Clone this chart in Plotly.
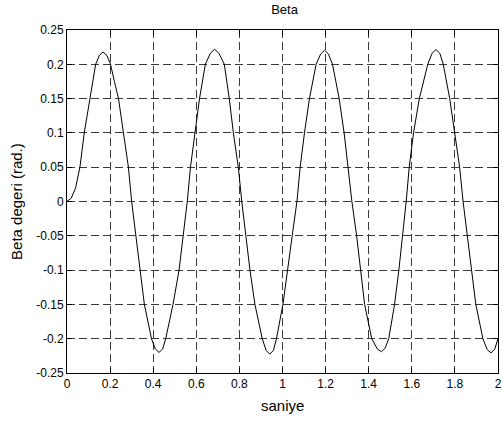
import plotly.graph_objects as go

# time (s) and beta (rad.)
t = [0, 0.02, 0.04, 0.06, 0.08, 0.106, 0.133, 0.15, 0.167, 0.185, 0.202, 0.22, 0.239, 0.262, 0.285,
     0.300, 0.320, 0.339, 0.359, 0.392, 0.41, 0.427, 0.444, 0.458, 0.492, 0.520, 0.539, 0.558, 0.573,
     0.593, 0.615, 0.642, 0.665, 0.685, 0.705, 0.730, 0.753, 0.772, 0.795, 0.811, 0.829, 0.849, 0.872,
     0.906, 0.924, 0.941, 0.958, 0.972, 1.002, 1.025, 1.045, 1.067, 1.082, 1.102, 1.125, 1.156, 1.177,
     1.195, 1.213, 1.232, 1.263, 1.286, 1.304, 1.322, 1.344, 1.362, 1.381, 1.414, 1.44, 1.459, 1.476,
     1.493, 1.520, 1.540, 1.558, 1.574, 1.588, 1.608, 1.635, 1.674, 1.694, 1.712, 1.730, 1.746, 1.776,
     1.799, 1.822, 1.838, 1.858, 1.877, 1.897, 1.930, 1.950, 1.968, 1.985, 2.0]
beta = [0, 0.005, 0.02, 0.05, 0.1, 0.15, 0.2, 0.213, 0.218, 0.213, 0.2, 0.175, 0.15, 0.1, 0.05,
        0, -0.05, -0.1, -0.15, -0.2, -0.215, -0.220, -0.215, -0.2, -0.15, -0.1, -0.05, 0, 0.05,
        0.1, 0.15, 0.2, 0.216, 0.222, 0.216, 0.2, 0.15, 0.1, 0.05, 0, -0.05, -0.1, -0.15,
        -0.2, -0.217, -0.2226, -0.217, -0.2, -0.15, -0.1, -0.05, 0, 0.05, 0.1, 0.15, 0.2, 0.215,
        0.2205, 0.215, 0.2, 0.15, 0.1, 0.05, 0, -0.05, -0.1, -0.15, -0.2, -0.215, -0.219, -0.214,
        -0.2, -0.15, -0.1, -0.05, 0, 0.05, 0.1, 0.15, 0.2, 0.216, 0.2215, 0.216, 0.2, 0.15,
        0.1, 0.05, 0, -0.05, -0.1, -0.15, -0.2, -0.216, -0.2207, -0.215, -0.2]

x_tickvals = [0, 0.2, 0.4, 0.6, 0.8, 1.0, 1.2, 1.4, 1.6, 1.8, 2.0]
x_ticktext = ["0", "0.2", "0.4", "0.6", "0.8", "1", "1.2", "1.4", "1.6", "1.8", "2"]
y_tickvals = [0.25, 0.2, 0.15, 0.1, 0.05, 0, -0.05, -0.1, -0.15, -0.2, -0.25]
y_ticktext = ["0.25", "0.2", "0.15", "0.1", "0.05", "0", "-0.05", "-0.1", "-0.15", "-0.2", "-0.25"]

FONT = "Liberation Sans, Arial, sans-serif"
W, H = 502, 421
L, R, T, B = 67, 0, 30, 48

fig = go.Figure()
fig.add_trace(go.Scatter(x=t, y=beta, mode="lines", line=dict(color="black", width=1), showlegend=False))

axis_common = dict(
    showline=True, linecolor="black", linewidth=1, mirror="ticks",
    ticks="inside", ticklen=5, tickcolor="black", tickwidth=1,
    showgrid=True, gridcolor="#3a3a3a", gridwidth=1, griddash="8px,4px",
    zeroline=False, tickfont=dict(family=FONT, size=12, color="black"),
    ticklabeloverflow="allow",
)

fig.update_layout(
    width=W, height=H,
    margin=dict(l=L, r=R, t=T, b=B),
    paper_bgcolor="white", plot_bgcolor="white",
    title=dict(text="Beta", x=(L + W) / 2 / W, xanchor="center", y=1 - 9 / H, yanchor="middle",
               font=dict(family=FONT, size=13, color="black")),
    xaxis=dict(range=[0, 2], tickvals=x_tickvals, ticktext=x_ticktext, **axis_common),
    yaxis=dict(range=[-0.25, 0.25], tickvals=y_tickvals, ticktext=y_ticktext, **axis_common),
    annotations=[
        dict(text="saniye", xref="paper", yref="paper", x=0.5, y=-(406 - (H - B)) / (H - T - B),
             xanchor="center", yanchor="middle", showarrow=False,
             font=dict(family=FONT, size=15, color="black")),
        dict(text="Beta degeri (rad.)", xref="paper", yref="paper", x=-(L - 16) / (W - L - R), y=0.5,
             xanchor="center", yanchor="middle", textangle=-90, showarrow=False,
             font=dict(family=FONT, size=15, color="black")),
    ],
)

fig.write_html("out.html")
